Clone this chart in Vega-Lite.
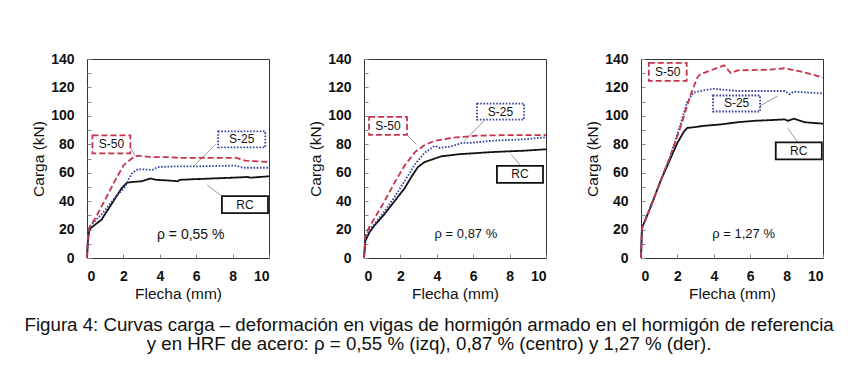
{
  "$schema": "https://vega.github.io/schema/vega-lite/v6.json",
  "background": "white",
  "padding": {"left": 24, "top": 51, "right": 5, "bottom": 5},
  "config": {
    "font": "Liberation Sans",
    "view": {"stroke": "#333", "strokeWidth": 1},
    "axis": {"grid": false, "domain": false, "labelFontSize": 14, "labelFontWeight": "bold", "titleFontSize": 15.5, "labelColor": "#111", "titleColor": "#111", "titleFontWeight": "normal", "tickColor": "#888", "tickSize": -4}
  },
  "datasets": {
    "curves": [
      {"p":1,"s":"RC","x":0,"y":0},{"p":1,"s":"RC","x":0.05,"y":12},{"p":1,"s":"RC","x":0.12,"y":19},{"p":1,"s":"RC","x":0.2,"y":21},{"p":1,"s":"RC","x":0.5,"y":24},{"p":1,"s":"RC","x":0.8,"y":27},{"p":1,"s":"RC","x":1.1,"y":33},{"p":1,"s":"RC","x":1.5,"y":41},{"p":1,"s":"RC","x":1.9,"y":49},{"p":1,"s":"RC","x":2.2,"y":53},{"p":1,"s":"RC","x":2.5,"y":53.5},{"p":1,"s":"RC","x":3,"y":54},{"p":1,"s":"RC","x":3.5,"y":56},{"p":1,"s":"RC","x":3.8,"y":55},{"p":1,"s":"RC","x":4.5,"y":54.5},{"p":1,"s":"RC","x":5,"y":54},{"p":1,"s":"RC","x":5.1,"y":55},{"p":1,"s":"RC","x":6,"y":55.5},{"p":1,"s":"RC","x":7,"y":56},{"p":1,"s":"RC","x":8,"y":56.5},{"p":1,"s":"RC","x":8.8,"y":57},{"p":1,"s":"RC","x":9,"y":56.5},{"p":1,"s":"RC","x":10,"y":57.5},
      {"p":1,"s":"S-25","x":0,"y":0},{"p":1,"s":"S-25","x":0.05,"y":14},{"p":1,"s":"S-25","x":0.15,"y":22},{"p":1,"s":"S-25","x":0.5,"y":27},{"p":1,"s":"S-25","x":0.83,"y":31},{"p":1,"s":"S-25","x":1.2,"y":37},{"p":1,"s":"S-25","x":1.56,"y":43},{"p":1,"s":"S-25","x":2.1,"y":50},{"p":1,"s":"S-25","x":2.3,"y":56},{"p":1,"s":"S-25","x":2.5,"y":60},{"p":1,"s":"S-25","x":2.8,"y":62.5},{"p":1,"s":"S-25","x":3.6,"y":62},{"p":1,"s":"S-25","x":3.9,"y":64},{"p":1,"s":"S-25","x":5,"y":64.5},{"p":1,"s":"S-25","x":6.3,"y":64.5},{"p":1,"s":"S-25","x":8.2,"y":65},{"p":1,"s":"S-25","x":8.4,"y":64},{"p":1,"s":"S-25","x":8.6,"y":63.5},{"p":1,"s":"S-25","x":10,"y":63.5},
      {"p":1,"s":"S-50","x":0,"y":0},{"p":1,"s":"S-50","x":0.05,"y":15},{"p":1,"s":"S-50","x":0.12,"y":21},{"p":1,"s":"S-50","x":0.5,"y":29},{"p":1,"s":"S-50","x":0.83,"y":37},{"p":1,"s":"S-50","x":1.2,"y":46},{"p":1,"s":"S-50","x":1.56,"y":55},{"p":1,"s":"S-50","x":2,"y":65},{"p":1,"s":"S-50","x":2.5,"y":70.5},{"p":1,"s":"S-50","x":2.8,"y":72},{"p":1,"s":"S-50","x":3.5,"y":71},{"p":1,"s":"S-50","x":4.5,"y":71},{"p":1,"s":"S-50","x":5,"y":70.5},{"p":1,"s":"S-50","x":6.3,"y":70.5},{"p":1,"s":"S-50","x":8.2,"y":70.5},{"p":1,"s":"S-50","x":8.7,"y":68.5},{"p":1,"s":"S-50","x":10,"y":67.5},
      {"p":2,"s":"RC","x":0,"y":0},{"p":2,"s":"RC","x":0.05,"y":8},{"p":2,"s":"RC","x":0.07,"y":12},{"p":2,"s":"RC","x":0.3,"y":18},{"p":2,"s":"RC","x":0.58,"y":23},{"p":2,"s":"RC","x":1.13,"y":31},{"p":2,"s":"RC","x":1.68,"y":40},{"p":2,"s":"RC","x":2.23,"y":49},{"p":2,"s":"RC","x":2.6,"y":57},{"p":2,"s":"RC","x":2.96,"y":64},{"p":2,"s":"RC","x":3.33,"y":67.5},{"p":2,"s":"RC","x":3.9,"y":70},{"p":2,"s":"RC","x":4.24,"y":71.5},{"p":2,"s":"RC","x":5.2,"y":73},{"p":2,"s":"RC","x":7,"y":74.5},{"p":2,"s":"RC","x":8.8,"y":75.5},{"p":2,"s":"RC","x":10,"y":76.5},
      {"p":2,"s":"S-25","x":0,"y":0},{"p":2,"s":"S-25","x":0.07,"y":14},{"p":2,"s":"S-25","x":0.3,"y":20},{"p":2,"s":"S-25","x":0.58,"y":24},{"p":2,"s":"S-25","x":1.13,"y":33},{"p":2,"s":"S-25","x":1.68,"y":43},{"p":2,"s":"S-25","x":2.23,"y":54},{"p":2,"s":"S-25","x":2.8,"y":66},{"p":2,"s":"S-25","x":3.33,"y":74},{"p":2,"s":"S-25","x":3.9,"y":79},{"p":2,"s":"S-25","x":4.15,"y":77.5},{"p":2,"s":"S-25","x":4.8,"y":78.5},{"p":2,"s":"S-25","x":5.4,"y":81},{"p":2,"s":"S-25","x":5.9,"y":81},{"p":2,"s":"S-25","x":7,"y":82.5},{"p":2,"s":"S-25","x":8.8,"y":83.5},{"p":2,"s":"S-25","x":10,"y":85},
      {"p":2,"s":"S-50","x":0,"y":0},{"p":2,"s":"S-50","x":0.07,"y":16},{"p":2,"s":"S-50","x":0.3,"y":22},{"p":2,"s":"S-50","x":0.58,"y":28},{"p":2,"s":"S-50","x":1.13,"y":40},{"p":2,"s":"S-50","x":1.68,"y":53},{"p":2,"s":"S-50","x":2.23,"y":65},{"p":2,"s":"S-50","x":2.8,"y":74.5},{"p":2,"s":"S-50","x":3.33,"y":79.5},{"p":2,"s":"S-50","x":3.9,"y":82.5},{"p":2,"s":"S-50","x":4.8,"y":84.5},{"p":2,"s":"S-50","x":6.1,"y":86},{"p":2,"s":"S-50","x":7.9,"y":86.5},{"p":2,"s":"S-50","x":10,"y":86.5},
      {"p":3,"s":"RC","x":0,"y":0},{"p":3,"s":"RC","x":0.05,"y":21},{"p":3,"s":"RC","x":0.5,"y":35},{"p":3,"s":"RC","x":1.07,"y":54},{"p":3,"s":"RC","x":1.62,"y":70},{"p":3,"s":"RC","x":2,"y":81},{"p":3,"s":"RC","x":2.36,"y":89},{"p":3,"s":"RC","x":2.54,"y":91.5},{"p":3,"s":"RC","x":2.9,"y":92},{"p":3,"s":"RC","x":3.46,"y":93},{"p":3,"s":"RC","x":4.4,"y":94},{"p":3,"s":"RC","x":5.3,"y":95.5},{"p":3,"s":"RC","x":6.2,"y":96.5},{"p":3,"s":"RC","x":7.1,"y":97},{"p":3,"s":"RC","x":7.9,"y":97.5},{"p":3,"s":"RC","x":8.07,"y":96.5},{"p":3,"s":"RC","x":8.4,"y":98},{"p":3,"s":"RC","x":9,"y":95.5},{"p":3,"s":"RC","x":10,"y":94.5},
      {"p":3,"s":"S-25","x":0,"y":0},{"p":3,"s":"S-25","x":0.05,"y":21},{"p":3,"s":"S-25","x":0.5,"y":35},{"p":3,"s":"S-25","x":1.07,"y":54},{"p":3,"s":"S-25","x":1.62,"y":72},{"p":3,"s":"S-25","x":2.17,"y":94},{"p":3,"s":"S-25","x":2.54,"y":110},{"p":3,"s":"S-25","x":2.9,"y":116.5},{"p":3,"s":"S-25","x":3.46,"y":118},{"p":3,"s":"S-25","x":4,"y":119},{"p":3,"s":"S-25","x":5.3,"y":117.5},{"p":3,"s":"S-25","x":7.9,"y":117.5},{"p":3,"s":"S-25","x":8.15,"y":115.3},{"p":3,"s":"S-25","x":8.4,"y":117},{"p":3,"s":"S-25","x":10,"y":115.8},
      {"p":3,"s":"S-50","x":0,"y":0},{"p":3,"s":"S-50","x":0.05,"y":21},{"p":3,"s":"S-50","x":0.5,"y":35},{"p":3,"s":"S-50","x":1.07,"y":54},{"p":3,"s":"S-50","x":1.62,"y":72},{"p":3,"s":"S-50","x":2.17,"y":92},{"p":3,"s":"S-50","x":2.73,"y":115},{"p":3,"s":"S-50","x":3.1,"y":127},{"p":3,"s":"S-50","x":3.28,"y":129.5},{"p":3,"s":"S-50","x":3.83,"y":132},{"p":3,"s":"S-50","x":4.57,"y":135.5},{"p":3,"s":"S-50","x":4.94,"y":130},{"p":3,"s":"S-50","x":5.3,"y":132},{"p":3,"s":"S-50","x":7.1,"y":132.5},{"p":3,"s":"S-50","x":7.9,"y":133.5},{"p":3,"s":"S-50","x":9,"y":130.5},{"p":3,"s":"S-50","x":10,"y":127}
    ],
    "labels": [
      {"p":1,"s":"S-50","x":1.34,"y":80},{"p":1,"s":"S-25","x":8.5,"y":83.5},{"p":1,"s":"RC","x":8.68,"y":37.6},
      {"p":2,"s":"S-50","x":1.32,"y":93},{"p":2,"s":"S-25","x":7.5,"y":103},{"p":2,"s":"RC","x":8.57,"y":58.8},
      {"p":3,"s":"S-50","x":1.47,"y":131},{"p":3,"s":"S-25","x":5.25,"y":108.7},{"p":3,"s":"RC","x":8.67,"y":75.3}
    ],
    "leaders": [
      {"p":1,"x":2.39,"y":77.6,"x2":2.66,"y2":71.8},{"p":1,"x":7.06,"y":80,"x2":5.87,"y2":64.7},{"p":1,"x":7.34,"y":44.2,"x2":6.6,"y2":51.3},
      {"p":2,"x":2.41,"y":85.9,"x2":2.87,"y2":80},{"p":2,"x":6.62,"y":96.9,"x2":5.52,"y2":82.4},{"p":2,"x":8.63,"y":64.7,"x2":8.08,"y2":72.9},
      {"p":3,"x":6.54,"y":107,"x2":7.51,"y2":114},{"p":3,"x":8.62,"y":81.2,"x2":8.07,"y2":91.3}
    ],
    "rho": [
      {"p":1,"t":"ρ = 0,55 %","x":5.7,"y":16.5},{"p":2,"t":"ρ = 0,87 %","x":5.6,"y":17},{"p":3,"t":"ρ = 1,27 %","x":5.64,"y":17}
    ]
  },
  "title": {
    "text": ["Figura 4: Curvas carga – deformación en vigas de hormigón armado en el hormigón de referencia", "y en HRF de acero: ρ = 0,55 % (izq), 0,87 % (centro) y 1,27 % (der)."],
    "orient": "bottom", "anchor": "middle", "fontSize": 18.7, "fontWeight": "normal", "lineHeight": 19, "offset": 14, "color": "#111", "font": "Liberation Sans"
  },
  "spacing": 34,
  "hconcat": [
    {
      "width": 182, "height": 199,
      "encoding": {
        "x": {"field": "x", "type": "quantitative", "scale": {"domain": [0, 10], "nice": false}, "axis": {"values": [0,2,4,6,8,10], "title": "Flecha (mm)", "labelPadding": 15, "titlePadding": 3}},
        "y": {"field": "y", "type": "quantitative", "scale": {"domain": [0, 140], "nice": false}, "axis": {"values": [0,10,20,30,40,50,60,70,80,90,100,110,120,130,140], "labelExpr": "datum.value % 20 == 0 ? datum.label : ''", "title": "Carga (kN)", "labelPadding": 17, "titlePadding": 4}}
      },
      "layer": [
        {"data": {"name": "leaders"}, "transform": [{"filter": "datum.p == 1"}], "mark": {"type": "rule", "color": "#999", "strokeWidth": 1}, "encoding": {"x2": {"field": "x2"}, "y2": {"field": "y2"}}},
        {"data": {"name": "curves"}, "transform": [{"filter": "datum.p == 1"}], "mark": {"type": "line", "strokeWidth": 1.8},
          "encoding": {"color": {"field": "s", "type": "nominal", "scale": {"domain": ["S-50","S-25","RC"], "range": ["#c8324f","#3443a0","#111111"]}, "legend": null},
            "strokeDash": {"field": "s", "type": "nominal", "scale": {"domain": ["S-50","S-25","RC"], "range": [[6,3],[1.6,1.6],[1,0]]}, "legend": null}}},
        {"data": {"name": "labels"}, "transform": [{"filter": "datum.p == 1"}], "mark": {"type": "point", "filled": false, "fill": "white", "fillOpacity": 1, "opacity": 1, "strokeWidth": 1.8, "size": 2304},
          "encoding": {"shape": {"field": "s", "type": "nominal", "scale": {"domain": ["S-50","S-25","RC"], "range": ["M-0.79,-0.375H0.79V0.375H-0.79Z","M-0.98,-0.333H0.98V0.333H-0.98Z","M-0.96,-0.354H0.96V0.354H-0.96Z"]}, "legend": null},
            "color": {"field": "s", "type": "nominal", "scale": {"domain": ["S-50","S-25","RC"], "range": ["#c8324f","#3443a0","#111111"]}, "legend": null},
            "strokeDash": {"field": "s", "type": "nominal", "scale": {"domain": ["S-50","S-25","RC"], "range": [[4,2],[1.6,1.6],[1,0]]}, "legend": null}}},
        {"data": {"name": "labels"}, "transform": [{"filter": "datum.p == 1"}], "mark": {"type": "text", "fontSize": 12, "color": "#111", "font": "Liberation Sans"}, "encoding": {"text": {"field": "s"}}},
        {"data": {"name": "rho"}, "transform": [{"filter": "datum.p == 1"}], "mark": {"type": "text", "fontSize": 14, "color": "#111", "font": "Liberation Sans"}, "encoding": {"text": {"field": "t"}}}
      ]
    },
    {
      "width": 182, "height": 199,
      "encoding": {
        "x": {"field": "x", "type": "quantitative", "scale": {"domain": [0, 10], "nice": false}, "axis": {"values": [0,2,4,6,8,10], "title": "Flecha (mm)", "labelPadding": 15, "titlePadding": 3}},
        "y": {"field": "y", "type": "quantitative", "scale": {"domain": [0, 140], "nice": false}, "axis": {"values": [0,10,20,30,40,50,60,70,80,90,100,110,120,130,140], "labelExpr": "datum.value % 20 == 0 ? datum.label : ''", "title": "Carga (kN)", "labelPadding": 17, "titlePadding": 4}}
      },
      "layer": [
        {"data": {"name": "leaders"}, "transform": [{"filter": "datum.p == 2"}], "mark": {"type": "rule", "color": "#999", "strokeWidth": 1}, "encoding": {"x2": {"field": "x2"}, "y2": {"field": "y2"}}},
        {"data": {"name": "curves"}, "transform": [{"filter": "datum.p == 2"}], "mark": {"type": "line", "strokeWidth": 1.8},
          "encoding": {"color": {"field": "s", "type": "nominal", "scale": {"domain": ["S-50","S-25","RC"], "range": ["#c8324f","#3443a0","#111111"]}, "legend": null},
            "strokeDash": {"field": "s", "type": "nominal", "scale": {"domain": ["S-50","S-25","RC"], "range": [[6,3],[1.6,1.6],[1,0]]}, "legend": null}}},
        {"data": {"name": "labels"}, "transform": [{"filter": "datum.p == 2"}], "mark": {"type": "point", "filled": false, "fill": "white", "fillOpacity": 1, "opacity": 1, "strokeWidth": 1.8, "size": 2304},
          "encoding": {"shape": {"field": "s", "type": "nominal", "scale": {"domain": ["S-50","S-25","RC"], "range": ["M-0.79,-0.375H0.79V0.375H-0.79Z","M-0.98,-0.333H0.98V0.333H-0.98Z","M-0.96,-0.354H0.96V0.354H-0.96Z"]}, "legend": null},
            "color": {"field": "s", "type": "nominal", "scale": {"domain": ["S-50","S-25","RC"], "range": ["#c8324f","#3443a0","#111111"]}, "legend": null},
            "strokeDash": {"field": "s", "type": "nominal", "scale": {"domain": ["S-50","S-25","RC"], "range": [[4,2],[1.6,1.6],[1,0]]}, "legend": null}}},
        {"data": {"name": "labels"}, "transform": [{"filter": "datum.p == 2"}], "mark": {"type": "text", "fontSize": 12, "color": "#111", "font": "Liberation Sans"}, "encoding": {"text": {"field": "s"}}},
        {"data": {"name": "rho"}, "transform": [{"filter": "datum.p == 2"}], "mark": {"type": "text", "fontSize": 13, "color": "#111", "font": "Liberation Sans"}, "encoding": {"text": {"field": "t"}}}
      ]
    },
    {
      "width": 182, "height": 199,
      "encoding": {
        "x": {"field": "x", "type": "quantitative", "scale": {"domain": [0, 10], "nice": false}, "axis": {"values": [0,2,4,6,8,10], "title": "Flecha (mm)", "labelPadding": 15, "titlePadding": 3}},
        "y": {"field": "y", "type": "quantitative", "scale": {"domain": [0, 140], "nice": false}, "axis": {"values": [0,10,20,30,40,50,60,70,80,90,100,110,120,130,140], "labelExpr": "datum.value % 20 == 0 ? datum.label : ''", "title": "Carga (kN)", "labelPadding": 17, "titlePadding": 4}}
      },
      "layer": [
        {"data": {"name": "leaders"}, "transform": [{"filter": "datum.p == 3"}], "mark": {"type": "rule", "color": "#999", "strokeWidth": 1}, "encoding": {"x2": {"field": "x2"}, "y2": {"field": "y2"}}},
        {"data": {"name": "curves"}, "transform": [{"filter": "datum.p == 3"}], "mark": {"type": "line", "strokeWidth": 1.8},
          "encoding": {"color": {"field": "s", "type": "nominal", "scale": {"domain": ["S-50","S-25","RC"], "range": ["#c8324f","#3443a0","#111111"]}, "legend": null},
            "strokeDash": {"field": "s", "type": "nominal", "scale": {"domain": ["S-50","S-25","RC"], "range": [[6,3],[1.6,1.6],[1,0]]}, "legend": null}}},
        {"data": {"name": "labels"}, "transform": [{"filter": "datum.p == 3"}], "mark": {"type": "point", "filled": false, "fill": "white", "fillOpacity": 1, "opacity": 1, "strokeWidth": 1.8, "size": 2304},
          "encoding": {"shape": {"field": "s", "type": "nominal", "scale": {"domain": ["S-50","S-25","RC"], "range": ["M-0.79,-0.375H0.79V0.375H-0.79Z","M-0.98,-0.333H0.98V0.333H-0.98Z","M-0.96,-0.354H0.96V0.354H-0.96Z"]}, "legend": null},
            "color": {"field": "s", "type": "nominal", "scale": {"domain": ["S-50","S-25","RC"], "range": ["#c8324f","#3443a0","#111111"]}, "legend": null},
            "strokeDash": {"field": "s", "type": "nominal", "scale": {"domain": ["S-50","S-25","RC"], "range": [[4,2],[1.6,1.6],[1,0]]}, "legend": null}}},
        {"data": {"name": "labels"}, "transform": [{"filter": "datum.p == 3"}], "mark": {"type": "text", "fontSize": 12, "color": "#111", "font": "Liberation Sans"}, "encoding": {"text": {"field": "s"}}},
        {"data": {"name": "rho"}, "transform": [{"filter": "datum.p == 3"}], "mark": {"type": "text", "fontSize": 13, "color": "#111", "font": "Liberation Sans"}, "encoding": {"text": {"field": "t"}}}
      ]
    }
  ]
}
